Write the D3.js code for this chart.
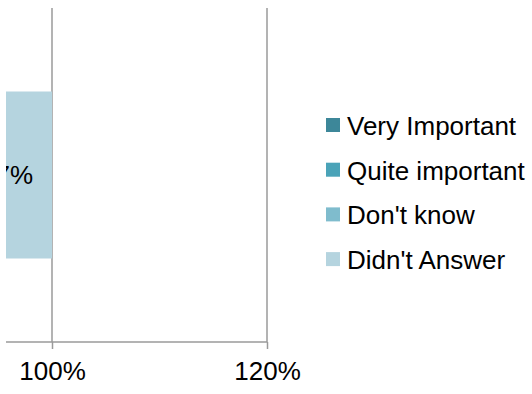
<!DOCTYPE html>
<html>
<head>
<meta charset="utf-8">
<script src="https://cdn.jsdelivr.net/npm/d3@7"></script>
<style>
  html, body { margin: 0; padding: 0; background: #fff; }
  svg { display: block; font-family: "Liberation Sans", Arial, sans-serif; }
</style>
</head>
<body>
<svg id="chart" width="532" height="394"></svg>
<script>
// Single stacked bar of answer shares (percent of respondents)
const categories = ["Response"];
const seriesNames = ["Very Important", "Quite important", "Don't know", "Didn't Answer"];
const seriesValues = [55, 33, 5, 7];
const seriesColors = ["#3d8799", "#4aa3b8", "#7fbccd", "#b5d4df"];
const tickValues = [100, 120];
const tickLabels = ["100%", "120%"];

const svg = d3.select("#chart");
const plot = { left: 6, right: 267, top: 8, bottom: 342 };
const fontSize = 26;

// 20 percentage points span 215px; the low end of the axis runs off the left edge
const x = d3.scaleLinear().domain([100, 120]).range([52, 267]);
const y = d3.scaleBand().domain(categories).range([plot.top, plot.bottom]).paddingInner(0.5).paddingOuter(0.25);

svg.append("defs").append("clipPath").attr("id", "plotClip")
  .append("rect")
  .attr("x", plot.left).attr("y", 0)
  .attr("width", plot.right - plot.left + 2).attr("height", plot.bottom + 1);

const stacked = [];
let acc = 0;
seriesValues.forEach((v, i) => {
  stacked.push({ name: seriesNames[i], value: v, x0: acc, x1: acc + v, color: seriesColors[i] });
  acc += v;
});

const g = svg.append("g").attr("clip-path", "url(#plotClip)");

// vertical gridlines
g.selectAll("line.grid").data(tickValues).enter().append("line")
  .attr("class", "grid")
  .attr("x1", d => x(d)).attr("x2", d => x(d))
  .attr("y1", plot.top).attr("y2", plot.bottom)
  .attr("stroke", "#9a9a9a").attr("stroke-width", 1.5);

// stacked segments
g.selectAll("rect.seg").data(stacked).enter().append("rect")
  .attr("class", "seg")
  .attr("x", d => x(d.x0))
  .attr("y", y(categories[0]))
  .attr("width", d => x(d.x1) - x(d.x0))
  .attr("height", y.bandwidth())
  .attr("fill", d => d.color);

// segment value labels (only those whose segment reaches the visible area)
g.selectAll("text.val").data(stacked.filter(d => x(d.x1) > plot.left)).enter().append("text")
  .attr("class", "val")
  .attr("x", d => (x(d.x0) + x(d.x1)) / 2)
  .attr("y", y(categories[0]) + y.bandwidth() / 2 + 9)
  .attr("text-anchor", "middle")
  .attr("font-size", fontSize)
  .attr("fill", "#000")
  .text(d => d.value + "%");

// bottom axis
const axis = d3.axisBottom(x).tickValues(tickValues).tickSize(7).tickPadding(13)
  .tickFormat((d, i) => tickLabels[i]);
const ax = svg.append("g").attr("transform", `translate(0,${plot.bottom})`).call(axis);
ax.select(".domain").remove();
ax.selectAll(".tick line").attr("stroke", "#9a9a9a").attr("stroke-width", 1.5);
ax.selectAll(".tick text").attr("font-size", fontSize).attr("fill", "#000")
  .attr("font-family", "Liberation Sans, Arial, sans-serif");
ax.insert("line", ":first-child")
  .attr("x1", plot.left).attr("x2", plot.right)
  .attr("y1", 0).attr("y2", 0)
  .attr("stroke", "#9a9a9a").attr("stroke-width", 1.5);

// legend
const legend = svg.append("g").attr("transform", "translate(326,118)");
const rows = legend.selectAll("g").data(seriesNames).enter().append("g")
  .attr("transform", (d, i) => `translate(0,${i * 44.7})`);
rows.append("rect").attr("width", 14).attr("height", 14)
  .attr("fill", (d, i) => seriesColors[i]);
rows.append("text").attr("x", 21).attr("y", 17)
  .attr("font-size", fontSize).attr("fill", "#000")
  .text(d => d);
</script>
</body>
</html>
